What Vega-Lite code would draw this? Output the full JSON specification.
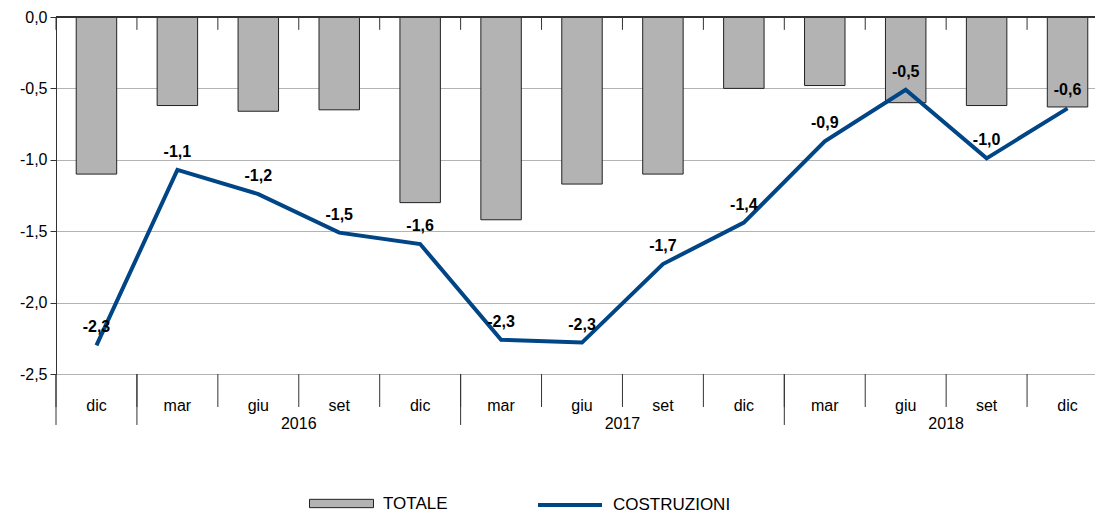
{
  "$schema": "https://vega.github.io/schema/vega-lite/v6.json",
  "width": 1039,
  "height": 357,
  "autosize": {"type": "none"},
  "padding": {"left": 56, "top": 17, "right": 0, "bottom": 141},
  "config": {
    "locale": {"number": {"decimal": ",", "thousands": ".", "grouping": [3], "currency": ["€", ""], "minus": "-"}},
    "view": {"stroke": null},
    "font": "Liberation Sans",
    "text": {"font": "Liberation Sans"}
  },
  "datasets": {
    "main": [
      {"p": "dic 2015", "TOTALE": -1.1, "COSTRUZIONI": -2.30},
      {"p": "mar 2016", "TOTALE": -0.62, "COSTRUZIONI": -1.07},
      {"p": "giu 2016", "TOTALE": -0.66, "COSTRUZIONI": -1.24},
      {"p": "set 2016", "TOTALE": -0.65, "COSTRUZIONI": -1.51},
      {"p": "dic 2016", "TOTALE": -1.30, "COSTRUZIONI": -1.59},
      {"p": "mar 2017", "TOTALE": -1.42, "COSTRUZIONI": -2.26},
      {"p": "giu 2017", "TOTALE": -1.17, "COSTRUZIONI": -2.28},
      {"p": "set 2017", "TOTALE": -1.10, "COSTRUZIONI": -1.73},
      {"p": "dic 2017", "TOTALE": -0.50, "COSTRUZIONI": -1.44},
      {"p": "mar 2018", "TOTALE": -0.48, "COSTRUZIONI": -0.87},
      {"p": "giu 2018", "TOTALE": -0.60, "COSTRUZIONI": -0.51},
      {"p": "set 2018", "TOTALE": -0.62, "COSTRUZIONI": -0.99},
      {"p": "dic 2018", "TOTALE": -0.63, "COSTRUZIONI": -0.64}
    ],
    "years": [
      {"p": "set 2016", "yr": "2016"},
      {"p": "set 2017", "yr": "2017"},
      {"p": "set 2018", "yr": "2018"}
    ],
    "groups": [
      {"p": "dic 2015"},
      {"p": "mar 2016"},
      {"p": "mar 2017"},
      {"p": "mar 2018"}
    ]
  },
  "data": {"name": "main"},
  "layer": [
    {
      "mark": {"type": "bar", "stroke": "#222222", "strokeWidth": 1},
      "encoding": {
        "x": {
          "field": "p", "type": "nominal", "sort": null,
          "scale": {"domain": ["dic 2015","mar 2016","giu 2016","set 2016","dic 2016","mar 2017","giu 2017","set 2017","dic 2017","mar 2018","giu 2018","set 2018","dic 2018"], "range": [0, 1052], "paddingInner": 0.5, "paddingOuter": 0.25},
          "axis": {"title": null, "orient": "bottom", "labelAngle": 0, "ticks": false, "tickSize": 0, "domain": false, "grid": false, "labelExpr": "split(datum.label, ' ')[0]", "labelFontSize": 16, "labelColor": "#000000", "labelPadding": 23, "labelBaseline": "top"}
        },
        "y": {
          "field": "TOTALE", "type": "quantitative",
          "scale": {"domain": [-2.5, 0], "nice": false, "zero": false},
          "axis": {"title": null, "values": [0, -0.5, -1, -1.5, -2, -2.5], "format": ".1f", "grid": true, "gridColor": "#b3b3b3", "domainColor": "#333333", "tickColor": "#333333", "tickSize": 6, "labelFontSize": 16, "labelColor": "#000000", "labelPadding": 3}
        },
        "fill": {
          "datum": "TOTALE",
          "scale": {"domain": ["TOTALE"], "range": ["#b3b3b3"]},
          "legend": {"title": null, "orient": "none", "legendX": 253, "legendY": 454, "padding": 0, "symbolType": "M-1,-0.13H1V0.13H-1Z", "symbolSize": 4096, "symbolStrokeColor": "#222222", "symbolStrokeWidth": 1, "labelFontSize": 17, "labelColor": "#000000", "labelOffset": 9}
        }
      }
    },
    {
      "mark": {"type": "line", "strokeWidth": 4},
      "encoding": {
        "x": {"field": "p", "type": "nominal", "sort": null},
        "y": {"field": "COSTRUZIONI", "type": "quantitative"},
        "stroke": {
          "datum": "COSTRUZIONI",
          "scale": {"domain": ["COSTRUZIONI"], "range": ["#004586"]},
          "legend": {"title": null, "orient": "none", "legendX": 480, "legendY": 454, "padding": 0, "symbolType": "stroke", "symbolSize": 4096, "symbolStrokeWidth": 4, "labelFontSize": 17, "labelColor": "#000000", "labelOffset": 9}
        }
      }
    },
    {
      "mark": {"type": "text", "fontWeight": "bold", "fontSize": 16, "dy": -18, "color": "#000000"},
      "encoding": {
        "x": {"field": "p", "type": "nominal", "sort": null},
        "y": {"field": "COSTRUZIONI", "type": "quantitative"},
        "text": {"field": "COSTRUZIONI", "type": "quantitative", "format": ".1f"}
      }
    },
    {
      "mark": {"type": "rule", "color": "#333333", "strokeWidth": 1},
      "encoding": {"y": {"datum": 0}}
    },
    {
      "mark": {"type": "rule", "color": "#333333", "strokeWidth": 1},
      "encoding": {
        "x": {"field": "p", "type": "nominal", "sort": null, "bandPosition": -0.5},
        "y": {"datum": 0},
        "y2": {"datum": -0.09}
      }
    },
    {
      "mark": {"type": "rule", "color": "#333333", "strokeWidth": 1},
      "encoding": {
        "x": {"field": "p", "type": "nominal", "sort": null, "bandPosition": -0.5},
        "y": {"datum": -2.5},
        "y2": {"datum": -2.731}
      }
    },
    {
      "data": {"name": "groups"},
      "mark": {"type": "rule", "color": "#333333", "strokeWidth": 1},
      "encoding": {
        "x": {"field": "p", "type": "nominal", "sort": null, "bandPosition": -0.5},
        "y": {"datum": -2.5},
        "y2": {"datum": -2.857}
      }
    },
    {
      "data": {"name": "years"},
      "mark": {"type": "text", "fontSize": 16, "dy": 50, "color": "#000000"},
      "encoding": {
        "x": {"field": "p", "type": "nominal", "sort": null, "bandPosition": -0.5},
        "y": {"datum": -2.5},
        "text": {"field": "yr"}
      }
    }
  ]
}
